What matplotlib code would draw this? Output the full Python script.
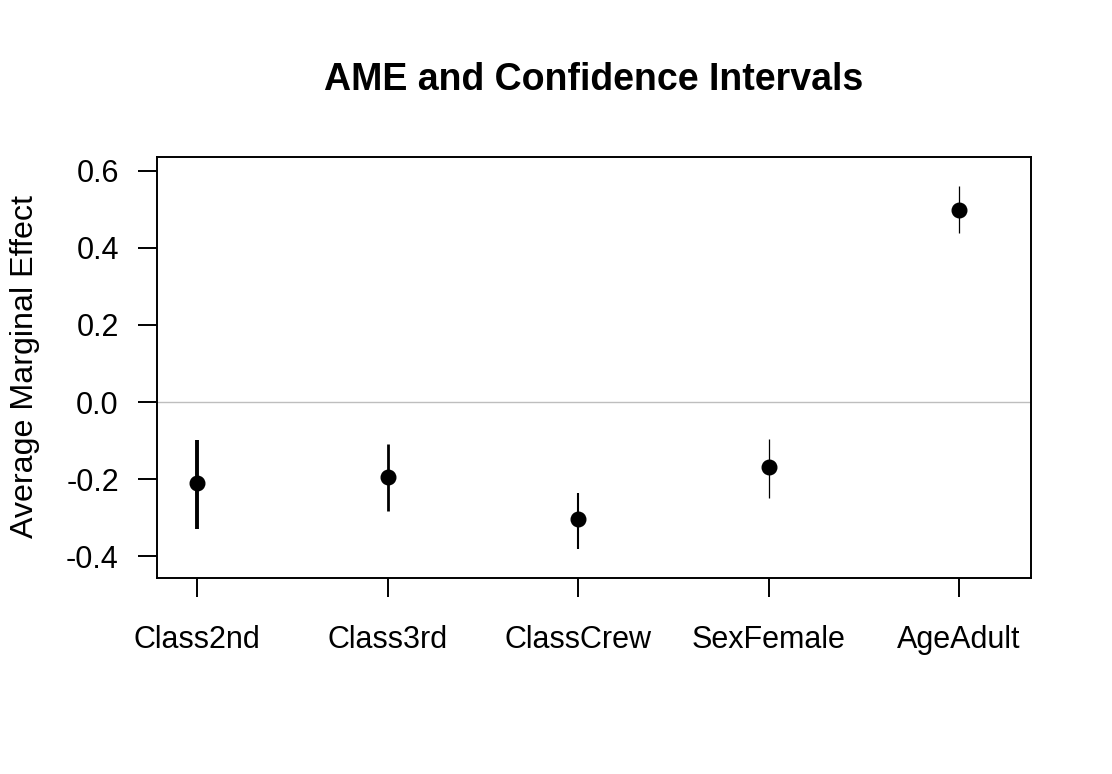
import matplotlib.pyplot as plt

# data
labels = ["Class2nd", "Class3rd", "ClassCrew", "SexFemale", "AgeAdult"]
ame = [-0.210, -0.193, -0.304, -0.169, 0.497]
lower = [-0.329, -0.282, -0.380, -0.248, 0.437]
upper = [-0.098, -0.108, -0.235, -0.095, 0.559]
widths = [2.8, 2.0, 1.5, 0.9, 0.9]

plt.rcParams['font.family'] = ['Liberation Sans', 'DejaVu Sans']

fig = plt.figure(figsize=(11.12, 7.74), dpi=100)
ax = fig.add_axes([157/1112, 1-578/774, (1031-157)/1112, (578-157)/774])

pos = list(range(1, len(labels)+1))
ax.axhline(0, color='#BEBEBE', lw=1.0, zorder=1)
for x, lo, hi, w in zip(pos, lower, upper, widths):
    ax.plot([x, x], [lo, hi], color='black', lw=w, solid_capstyle='butt', zorder=2)
ax.plot(pos, ame, 'o', color='black', markersize=10.5, zorder=3)

ax.set_xlim(0.79, 5.377)
ax.set_ylim(-0.456, 0.635)
ax.set_xticks(pos)
ax.set_xticklabels(labels)
ax.set_yticks([-0.4, -0.2, 0.0, 0.2, 0.4, 0.6])
ax.set_yticklabels(["-0.4", "-0.2", "0.0", "0.2", "0.4", "0.6"])
ax.tick_params(axis='both', length=13.5, width=1.4, labelsize=22)
ax.tick_params(axis='x', pad=20)
ax.tick_params(axis='y', pad=14)
for s in ax.spines.values():
    s.set_linewidth(1.4)

fig.text(25/1112, 1-366/774, "Average Marginal Effect", fontsize=23.2,
         rotation=90, ha='center', va='center')
fig.text(594/1112, 1-80/774, "AME and Confidence Intervals", fontsize=27,
         fontweight='bold', ha='center', va='center')

fig.savefig("out.png", dpi=100)
